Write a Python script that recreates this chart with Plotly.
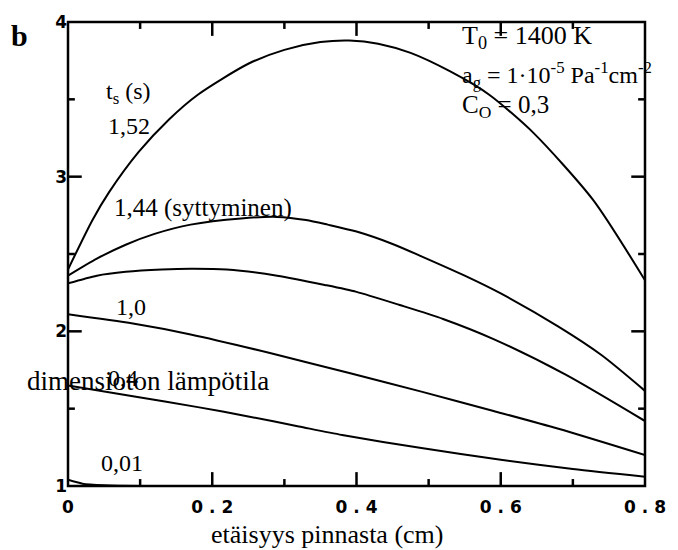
import plotly.graph_objects as go

# Dimensionless temperature profiles vs. distance from the surface
x_152 = [0, 0.034, 0.057, 0.098, 0.14, 0.18, 0.25, 0.30, 0.35, 0.39, 0.43, 0.475, 0.53, 0.584, 0.646, 0.728, 0.8]
y_152 = [2.40, 2.72, 2.90, 3.16, 3.37, 3.53, 3.73, 3.82, 3.87, 3.88, 3.86, 3.80, 3.68, 3.53, 3.28, 2.85, 2.33]

x_144 = [0, 0.04, 0.08, 0.12, 0.17, 0.24, 0.29, 0.33, 0.36, 0.40, 0.45, 0.49, 0.55, 0.60, 0.68, 0.74, 0.8]
y_144 = [2.36, 2.47, 2.56, 2.63, 2.69, 2.73, 2.74, 2.72, 2.69, 2.645, 2.565, 2.485, 2.36, 2.245, 2.03, 1.845, 1.615]

x_14 = [0, 0.04, 0.08, 0.13, 0.17, 0.22, 0.29, 0.356, 0.40, 0.46, 0.52, 0.59, 0.69, 0.8]
y_14 = [2.31, 2.36, 2.385, 2.40, 2.405, 2.40, 2.36, 2.30, 2.255, 2.17, 2.08, 1.95, 1.72, 1.42]

x_10 = [0, 0.09, 0.17, 0.28, 0.39, 0.49, 0.59, 0.68, 0.8]
y_10 = [2.11, 2.05, 1.98, 1.86, 1.73, 1.61, 1.485, 1.37, 1.20]

x_04 = [0, 0.09, 0.18, 0.25, 0.32, 0.38, 0.49, 0.60, 0.70, 0.8]
y_04 = [1.65, 1.58, 1.51, 1.45, 1.385, 1.33, 1.245, 1.17, 1.11, 1.06]

x_001 = [0, 0.02, 0.05, 0.1, 0.8]
y_001 = [1.04, 1.015, 1.005, 1.0, 1.0]

curves = [(x_152, y_152), (x_144, y_144), (x_14, y_14),
          (x_10, y_10), (x_04, y_04), (x_001, y_001)]

x_tickvals = [0, 0.2, 0.4, 0.6, 0.8]
x_ticktext = ["<b>0</b>", "<b>0 . 2</b>", "<b>0 . 4</b>", "<b>0 . 6</b>", "<b>0 . 8</b>"]
x_minor = [0.1, 0.3, 0.5, 0.7]
y_tickvals = [1, 2, 3, 4]
y_ticktext = ["<b>1</b>", "<b>2</b>", "<b>3</b>", "<b>4</b>"]
y_minor = [1.5, 2.5, 3.5]

X_RANGE = [0, 0.8]
Y_RANGE = [1, 4]

serif = "Liberation Serif"
tickfam = "DejaVu Sans"

WIDTH, HEIGHT = 678, 550
M_L, M_R, M_T, M_B = 68, 22, 18, 64
plot_w = WIDTH - M_L - M_R
plot_h = HEIGHT - M_T - M_B
MAJOR_LEN, MINOR_LEN = 14, 7

# pixel lengths expressed in axis units
px_x = (X_RANGE[1] - X_RANGE[0]) / plot_w
px_y = (Y_RANGE[1] - Y_RANGE[0]) / plot_h

fig = go.Figure()
for xs, ys in curves:
    fig.add_trace(go.Scatter(x=xs, y=ys, mode="lines",
                             line=dict(color="black", width=2, shape="spline", smoothing=0.7),
                             showlegend=False, hoverinfo="skip"))

# inward tick marks on all four sides, drawn as one broken line
tx, ty = [], []
for vals, length in ((x_tickvals[1:-1], MAJOR_LEN), (x_minor, MINOR_LEN)):
    for v in vals:
        d = length * px_y
        tx += [v, v, None, v, v, None]
        ty += [Y_RANGE[0], Y_RANGE[0] + d, None, Y_RANGE[1], Y_RANGE[1] - d, None]
for vals, length in ((y_tickvals[1:-1], MAJOR_LEN), (y_minor, MINOR_LEN)):
    for v in vals:
        d = length * px_x
        tx += [X_RANGE[0], X_RANGE[0] + d, None, X_RANGE[1], X_RANGE[1] - d, None]
        ty += [v, v, None, v, v, None]
fig.add_trace(go.Scatter(x=tx, y=ty, mode="lines", line=dict(color="black", width=2.5),
                         connectgaps=False, showlegend=False, hoverinfo="skip"))

# transparent outside ticks only push the labels away from the frame
fig.update_xaxes(range=X_RANGE, tickmode="array", tickvals=x_tickvals, ticktext=x_ticktext,
                 showline=False, ticks="outside", ticklen=6, tickcolor="rgba(0,0,0,0)",
                 showgrid=False, zeroline=False,
                 tickfont=dict(family=tickfam, size=17, color="black"))
fig.update_yaxes(range=Y_RANGE, tickmode="array", tickvals=y_tickvals, ticktext=y_ticktext,
                 showline=False, ticks="", showgrid=False, zeroline=False,
                 tickfont=dict(family=tickfam, size=17, color="black"))

# frame around the plotting area
fig.update_layout(shapes=[dict(type="rect", xref="paper", yref="paper", x0=0, x1=1, y0=0, y1=1,
                               line=dict(color="black", width=2.5), layer="above")])

labels = [
    (0.050, 3.538, "t<sub>s</sub> (s)", 24),
    (0.053, 3.327, "1,52", 24),
    (0.061, 2.80, "1,44 (syttyminen)", 25),
    (0.064, 2.16, "1,0", 24),
    (0.053, 1.70, "0,4", 24),
    (0.0435, 1.147, "0,01", 24),
    (0.543, 3.90, "T<sub>0</sub> = 1400 K", 26),
    (0.543, 3.66, "a<sub>g</sub> = 1·10<sup>-5</sup> Pa<sup>-1</sup>cm<sup>-2</sup>", 24),
    (0.543, 3.455, "C<sub>O</sub> = 0,3", 25),
]
for ax, ay, txt, size in labels:
    fig.add_annotation(x=ax, y=ay, text=txt, showarrow=False, xanchor="left",
                       yanchor="middle", font=dict(family=serif, size=size, color="black"))

fig.add_annotation(x=-0.075, y=0.2265, xref="paper", yref="paper",
                   text="dimensioton lämpötila", showarrow=False,
                   xanchor="left", yanchor="middle",
                   font=dict(family=serif, size=27, color="black"))
fig.add_annotation(x=-0.102, y=0.97, xref="paper", yref="paper", text="<b>b</b>",
                   showarrow=False, xanchor="left", yanchor="middle",
                   font=dict(family=serif, size=30, color="black"))
fig.add_annotation(x=0.45, y=-0.104, xref="paper", yref="paper",
                   text="etäisyys pinnasta (cm)", showarrow=False,
                   xanchor="center", yanchor="middle",
                   font=dict(family=serif, size=26, color="black"))

fig.update_layout(width=WIDTH, height=HEIGHT,
                  margin=dict(l=M_L, r=M_R, t=M_T, b=M_B),
                  plot_bgcolor="white", paper_bgcolor="white")

fig.write_html("out.html")
